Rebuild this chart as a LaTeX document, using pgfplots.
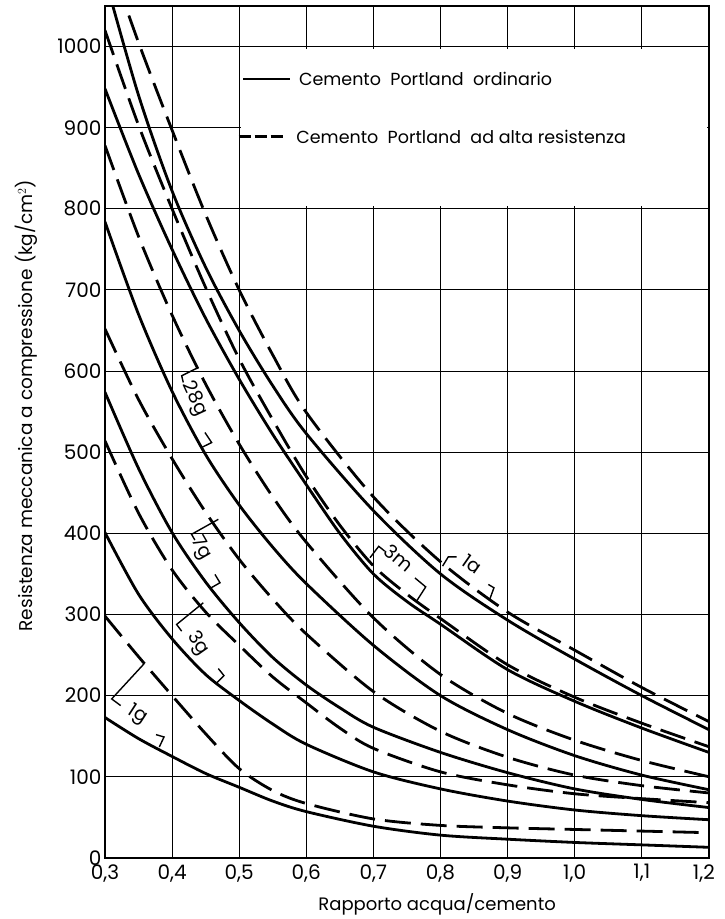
\documentclass[border=0pt]{standalone}
\usepackage{pgfplots}
\pgfplotsset{compat=1.18}
\usepackage{fontspec}
\setmainfont{Poppins}
\begin{document}
\begin{tikzpicture}
\begin{axis}[
  scale only axis, width=604pt, height=852pt,
  xmin=0.3, xmax=1.2, ymin=0, ymax=1050,
  xtick={0.3,0.4,0.5,0.6,0.7,0.8,0.9,1.0,1.1,1.2},
  xticklabels={{0,3},{0,4},{0,5},{0,6},{0,7},{0,8},{0,9},{1,0},{1,1},{\hspace*{-10pt}1,2}},
  ytick={0,100,200,300,400,500,600,700,800,900,1000},
  grid=major, grid style={black, line width=1.0pt},
  axis line style={line width=1.6pt},
  major tick length=0pt,
  tick label style={font=\fontsize{20}{23}\selectfont},
  /pgf/number format/assume math mode=true,
  xticklabel style={yshift=-3pt},
  yticklabel style={/pgf/number format/.cd, fixed, 1000 sep={}},
  xlabel={Rapporto acqua/cemento},
  ylabel={Resistenza meccanica a compressione (kg/cm$^2$)},
  every axis x label/.style={at={(rel axis cs:0.55,0)}, yshift=-47pt, anchor=center, font=\fontsize{18}{21}\selectfont},
  every axis y label/.style={at={(rel axis cs:0,0.531)}, xshift=-79pt, rotate=90, anchor=center, font=\fontsize{18.5}{21}\selectfont},
]
% legend box
\fill[white] (axis cs:0.502,803) rectangle (axis cs:1.197,997);
\draw[line width=2.8pt] (axis cs:0.506,960) -- (axis cs:0.576,960);
\node[anchor=west, font=\fontsize{17.5}{20}\selectfont] at (axis cs:0.584,960) {Cemento\ \ Portland\ \ ordinario};
\draw[line width=2.8pt, dash pattern=on 12pt off 4pt] (axis cs:0.499,889) -- (axis cs:0.569,889);
\node[anchor=west, font=\fontsize{17.5}{20}\selectfont] at (axis cs:0.580,889) {Cemento\ \ Portland\ \ ad\ alta\ resistenza};

% 1 anno
\addplot[black, line width=2.8pt, smooth] coordinates {(0.30,1085)(0.35,940)(0.40,822)(0.45,728)(0.50,650)(0.55,582)(0.60,523)(0.70,428)(0.80,350)(0.90,293)(1.00,245)(1.10,200)(1.20,158)};
\addplot[black, line width=2.8pt, smooth, dash pattern=on 26pt off 10pt] coordinates {(0.30,1122)(0.35,1005)(0.40,897)(0.45,793)(0.50,700)(0.55,620)(0.60,549)(0.70,445)(0.80,365)(0.90,303)(1.00,256)(1.10,210)(1.20,168)};
% 3 mesi
\addplot[black, line width=2.8pt, smooth] coordinates {(0.30,948)(0.35,843)(0.40,750)(0.45,665)(0.50,590)(0.55,522)(0.60,460)(0.65,400)(0.70,350)(0.75,316)(0.80,288)(0.90,232)(1.00,193)(1.10,160)(1.20,130)};
\addplot[black, line width=2.8pt, smooth, dash pattern=on 26pt off 10pt] coordinates {(0.30,1020)(0.35,903)(0.40,800)(0.45,703)(0.50,615)(0.55,540)(0.60,470)(0.65,410)(0.70,360)(0.75,325)(0.80,295)(0.90,238)(1.00,198)(1.10,166)(1.20,137)};
% 28 giorni
\addplot[black, line width=2.8pt, smooth] coordinates {(0.30,784)(0.35,670)(0.40,575)(0.45,497)(0.50,435)(0.55,383)(0.60,338)(0.70,262)(0.80,200)(0.90,158)(1.00,126)(1.10,102)(1.20,84)};
\addplot[black, line width=2.8pt, smooth, dash pattern=on 26pt off 10pt] coordinates {(0.30,878)(0.35,766)(0.40,669)(0.45,584)(0.50,510)(0.55,445)(0.60,389)(0.70,296)(0.80,226)(0.90,178)(1.00,145)(1.10,120)(1.20,100)};
% 7 giorni
\addplot[black, line width=2.8pt, smooth] coordinates {(0.30,574)(0.35,480)(0.40,401)(0.45,340)(0.50,290)(0.55,247)(0.60,213)(0.65,185)(0.70,161)(0.80,130)(0.90,105)(1.00,85)(1.10,72)(1.20,62)};
\addplot[black, line width=2.8pt, smooth, dash pattern=on 26pt off 10pt] coordinates {(0.30,652)(0.35,565)(0.40,492)(0.45,426)(0.50,368)(0.55,319)(0.60,276)(0.70,205)(0.80,156)(0.90,124)(1.00,102)(1.10,89)(1.20,80)};
% 3 giorni
\addplot[black, line width=2.8pt, smooth] coordinates {(0.30,401)(0.35,325)(0.40,270)(0.45,226)(0.50,194)(0.55,165)(0.60,140)(0.70,106)(0.80,85)(0.90,70)(1.00,59)(1.10,52)(1.20,47)};
\addplot[black, line width=2.8pt, smooth, dash pattern=on 26pt off 10pt] coordinates {(0.30,514)(0.35,425)(0.40,355)(0.45,303)(0.50,262)(0.55,223)(0.60,191)(0.65,160)(0.70,135)(0.80,106)(0.90,90)(1.00,79)(1.10,73)(1.20,68)};
% 1 giorno
\addplot[black, line width=2.8pt, smooth] coordinates {(0.30,173)(0.35,147)(0.40,125)(0.45,104)(0.50,87)(0.55,70)(0.60,57)(0.70,39)(0.80,28)(0.90,23)(1.00,19)(1.10,16)(1.20,13)};
\addplot[black, line width=2.8pt, smooth, dash pattern=on 26pt off 10pt] coordinates {(0.30,298)(0.35,248)(0.40,200)(0.45,153)(0.50,110)(0.55,83)(0.60,67)(0.70,48)(0.80,40)(0.90,37)(1.00,35)(1.10,33)(1.20,31)};

% brackets and labels
\tikzset{br/.style={line width=1.4pt}, lab/.style={font=\fontsize{19}{22}\selectfont}}
% 1g
\draw[br] (axis cs:0.3581,239.1) -- (axis cs:0.310,195.9) -- (axis cs:0.3234,187.7);
\node[lab, rotate=-33] at (axis cs:0.3480,176) {1g};
\draw[br] (axis cs:0.376,151.9) -- (axis cs:0.388,149) -- (axis cs:0.381,136.7);
% 3g
\draw[br] (axis cs:0.4465,314.4) -- (axis cs:0.4068,287.7) -- (axis cs:0.4143,279.4);
\node[lab, rotate=-55] at (axis cs:0.4380,264) {3g};
\draw[br] (axis cs:0.4689,233.3) -- (axis cs:0.4773,224.7) -- (axis cs:0.4665,215.6);
% 7g
\draw[br] (axis cs:0.469,417.3) -- (axis cs:0.429,398.8) -- (axis cs:0.434,391.7);
\node[lab, rotate=-60] at (axis cs:0.4430,381) {7g};
\draw[br] (axis cs:0.4639,349.4) -- (axis cs:0.4714,339.1) -- (axis cs:0.4575,332.5);
% 28g
\draw[br] (axis cs:0.439,604.4) -- (axis cs:0.4143,594.2) -- (axis cs:0.4167,586);
\node[lab, rotate=-65] at (axis cs:0.4335,566) {28g};
\draw[br] (axis cs:0.449,524.3) -- (axis cs:0.459,511.9) -- (axis cs:0.444,505.8);
% 3m
\draw[br] (axis cs:0.695,370) -- (axis cs:0.708,384) -- (axis cs:0.717,378);
\node[lab, rotate=-40] at (axis cs:0.738,370) {3m};
\draw[br] (axis cs:0.762,345) -- (axis cs:0.778,334) -- (axis cs:0.764,316);
% 1a
\draw[br] (axis cs:0.824,371) -- (axis cs:0.8116,371) -- (axis cs:0.8032,359.6);
\node[lab, rotate=-35] at (axis cs:0.8470,362) {1a};
\draw[br] (axis cs:0.8713,337) -- (axis cs:0.8797,332.9) -- (axis cs:0.8737,319.3);
\end{axis}
\path ([shift={(-105pt,-61pt)}]current axis.south west) rectangle ([shift={(16pt,6pt)}]current axis.north east);
\end{tikzpicture}
\end{document}
